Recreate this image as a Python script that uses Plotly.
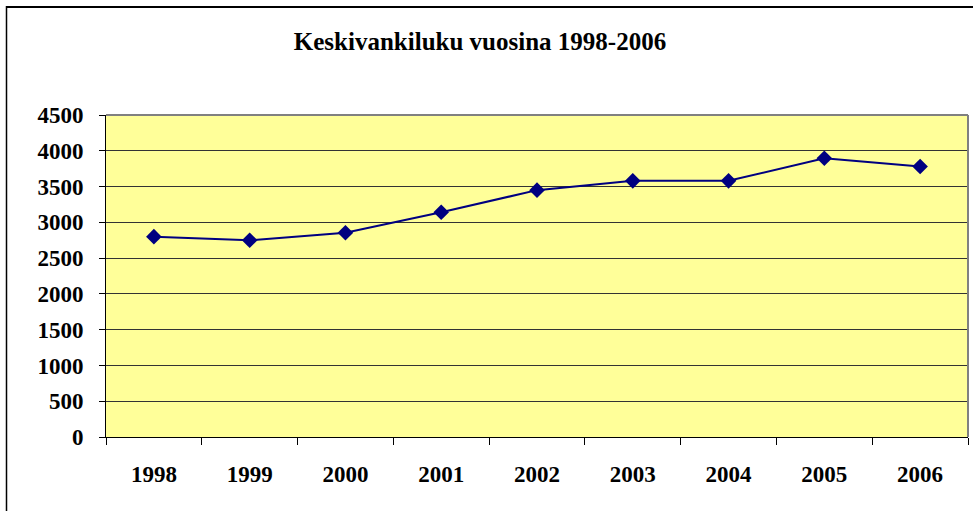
import plotly.graph_objects as go

years = ["1998", "1999", "2000", "2001", "2002", "2003", "2004", "2005", "2006"]
prisoners = [2800, 2750, 2855, 3140, 3450, 3580, 3580, 3895, 3780]
y_ticks = [0, 500, 1000, 1500, 2000, 2500, 3000, 3500, 4000, 4500]
title_text = "Keskivankiluku vuosina 1998-2006"

W, H = 973, 511
L, R, T, B = 106, 5, 115, 74
pw, ph = W - L - R, H - T - B

def px_x(x):
    return (x - L) / pw

def px_y(y):
    return (H - B - y) / ph

font_family = "Liberation Serif, Times New Roman, serif"

fig = go.Figure()
fig.add_trace(go.Scatter(
    x=years, y=prisoners, mode="lines+markers",
    line=dict(color="#000080", width=2),
    marker=dict(symbol="diamond", size=12, color="#000080"),
    showlegend=False, hoverinfo="x+y",
))

fig.update_layout(
    width=W, height=H,
    margin=dict(l=L, r=R, t=T, b=B),
    paper_bgcolor="white",
    plot_bgcolor="#FFFF99",
    title=dict(text="<b>" + title_text + "</b>", x=480 / W, xanchor="center",
               y=1 - 41 / H, yanchor="middle", yref="container",
               font=dict(family=font_family, size=25, color="black")),
    font=dict(family=font_family, color="black"),
    xaxis=dict(
        type="category", range=[-0.5, len(years) - 0.5],
        tickson="boundaries", ticks="outside", ticklen=7, tickcolor="black",
        showgrid=False, showline=True, linecolor="black", linewidth=1,
        tickfont=dict(family=font_family, size=23, color="black", weight="bold"),
        ticklabelstandoff=16, fixedrange=True,
    ),
    yaxis=dict(
        range=[0, 4500], tickvals=y_ticks, ticktext=[str(v) for v in y_ticks],
        ticks="outside", ticklen=6, tickcolor="black",
        showgrid=True, gridcolor="#333333", gridwidth=1,
        showline=True, linecolor="black", linewidth=1,
        tickfont=dict(family=font_family, size=23, color="black", weight="bold"),
        ticklabelstandoff=11, zeroline=False, fixedrange=True,
    ),
    shapes=[
        dict(type="line", xref="paper", yref="paper", x0=0, x1=1, y0=1, y1=1,
             line=dict(color="#808080", width=2)),
        dict(type="line", xref="paper", yref="paper", x0=1, x1=1, y0=0, y1=1,
             line=dict(color="#808080", width=2)),
        dict(type="line", xref="paper", yref="paper",
             x0=px_x(6), x1=px_x(W + 10), y0=px_y(7), y1=px_y(7),
             line=dict(color="black", width=2), layer="above"),
        dict(type="line", xref="paper", yref="paper",
             x0=px_x(6.5), x1=px_x(6.5), y0=px_y(6), y1=px_y(H + 10),
             line=dict(color="black", width=1.5), layer="above"),
    ],
)

fig.write_html("out.html", config={"displayModeBar": False},
               post_script="document.body.style.margin='0';document.body.style.overflow='hidden';")
